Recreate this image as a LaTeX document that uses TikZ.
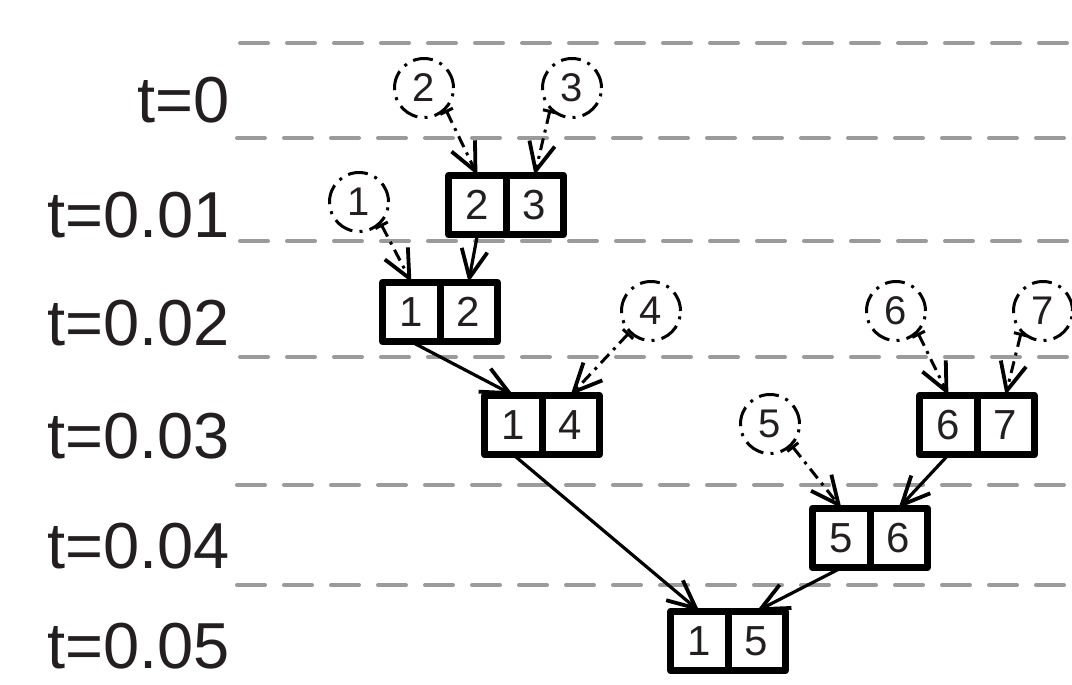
\documentclass[tikz,border=0pt]{standalone}
\usepackage{fontspec}
\setmainfont{Liberation Sans}
\usetikzlibrary{arrows.meta}
\definecolor{ink}{RGB}{35,31,32}
\definecolor{gridc}{RGB}{155,155,155}
\begin{document}
\begin{tikzpicture}[x=0.5pt,y=-0.5pt,
  tlabel/.style={anchor=base east, font=\fontsize{32.5}{39}\selectfont, text=ink, inner sep=0pt},
  cell/.style={draw=black, line width=3.5pt, line join=round, outer sep=0pt, minimum width=28.6pt, minimum height=29.8pt, inner sep=0pt, font=\fontsize{21}{25}\selectfont, text=ink},
  ev/.style={circle, draw=black, line width=1.5pt, dash pattern=on 10pt off 3.6pt on 1.5pt off 3.6pt, minimum size=29.5pt, inner sep=0pt, font=\fontsize{20}{24}\selectfont, text=ink},
  gridline/.style={draw=gridc, line width=2pt, line cap=round, dash pattern=on 14pt off 9.5pt},
  solidarrow/.style={line width=1.6pt, -{Straight Barb[length=14pt,width=13pt,line width=1.9pt]}},
  dasharrow/.style={line width=1.5pt, dash pattern=on 6pt off 3pt on 1.5pt off 3pt, {Bar[width=7pt]}-{Straight Barb[length=14pt,width=13pt,line width=1.9pt]}},
]
\useasboundingbox (0,0) rectangle (1072,685);

% time separators
\draw[gridline] (240,43) -- (1080,43);
\draw[gridline] (237,138) -- (1080,138);
\draw[gridline] (240,241) -- (1080,241);
\draw[gridline] (240,357) -- (1080,357);
\draw[gridline] (237,485) -- (1080,485);
\draw[gridline] (237,585) -- (1080,585);

% time labels
\node[tlabel] (t0) at (230,122) {t=0};
\node[tlabel] (t1) at (230,237) {t=0.01};
\node[tlabel] (t2) at (230,345) {t=0.02};
\node[tlabel] (t3) at (230,458) {t=0.03};
\node[tlabel] (t4) at (230,568) {t=0.04};
\node[tlabel] (t5) at (230,668) {t=0.05};

% event circles
\node[ev] (c1) at (359,202) {1};
\node[ev] (c2) at (424,88) {2};
\node[ev] (c3) at (572,88) {3};
\node[ev] (c4) at (651,311) {4};
\node[ev] (c5) at (770,424) {5};
\node[ev] (c6) at (896,311) {6};
\node[ev] (c7) at (1043,311) {7};

% boxes
\node[cell, anchor=east] (b23a) at (506,205) {2};
\node[cell, anchor=west] (b23b) at (506,205) {3};
\node[cell, anchor=east] (b12a) at (440,312) {1};
\node[cell, anchor=west] (b12b) at (440,312) {2};
\node[cell, anchor=east] (b14a) at (542,425) {1};
\node[cell, anchor=west] (b14b) at (542,425) {4};
\node[cell, anchor=east] (b67a) at (977,425) {6};
\node[cell, anchor=west] (b67b) at (977,425) {7};
\node[cell, anchor=east] (b56a) at (870,538) {5};
\node[cell, anchor=west] (b56b) at (870,538) {6};
\node[cell, anchor=east] (b15a) at (728,641) {1};
\node[cell, anchor=west] (b15b) at (728,641) {5};

% connectors
\draw[dasharrow] (c2.south east) -- (b23a.north);
\draw[dasharrow] (c3.south west) -- (b23b.north);
\draw[dasharrow] (c1.south east) -- (b12a.north);
\draw[solidarrow] (b23a.south) -- (b12b.north);
\draw[solidarrow] (b12a.south) -- (b14a.north);
\draw[dasharrow] (c4.south west) -- (b14b.north);
\draw[solidarrow] (b14a.south) -- (b15a.north);
\draw[dasharrow] (c5.south east) -- (b56a.north);
\draw[solidarrow] (b67a.south) -- (b56b.north);
\draw[dasharrow] (c6.south east) -- (b67a.north);
\draw[dasharrow] (c7.south west) -- (b67b.north);
\draw[solidarrow] (b56a.south) -- (b15b.north);
\end{tikzpicture}
\end{document}
